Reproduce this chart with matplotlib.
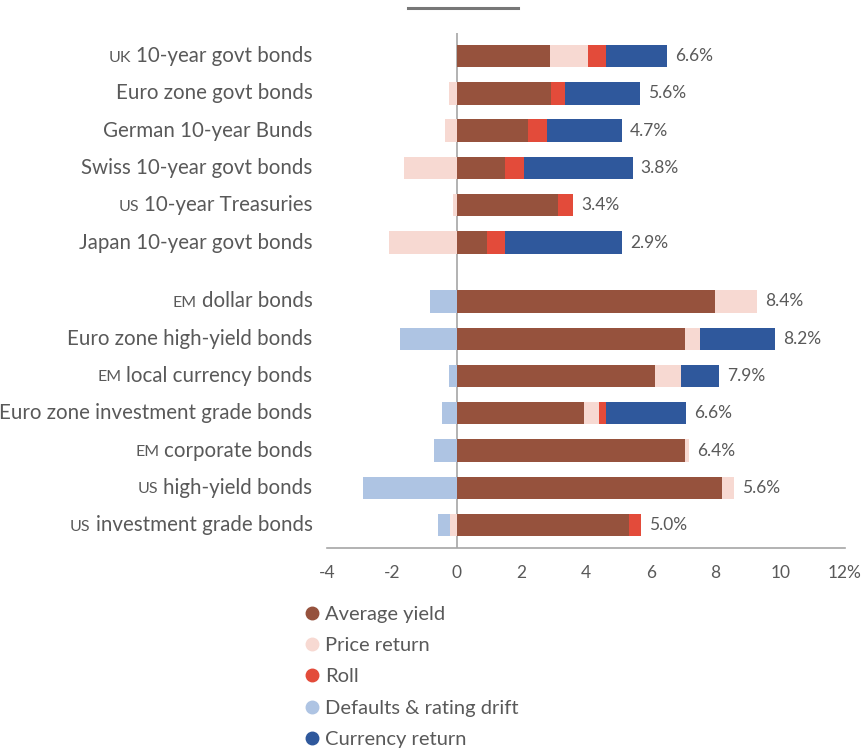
import numpy as np
import matplotlib
matplotlib.use("Agg")
import matplotlib.pyplot as plt
import matplotlib.transforms as mtransforms
from matplotlib.lines import Line2D

plt.rcParams['font.family'] = ['Lato', 'DejaVu Sans']

# 数据
categories = ["UK 10-year govt bonds", "Euro zone govt bonds", "German 10-year Bunds",
              "Swiss 10-year govt bonds", "US 10-year Treasuries", "Japan 10-year govt bonds",
              "EM dollar bonds", "Euro zone high-yield bonds", "EM local currency bonds",
              "Euro zone investment grade bonds", "EM corporate bonds", "US high-yield bonds",
              "US investment grade bonds"]
avg_yield = [2.89, 2.92, 2.21, 1.50, 3.13, 0.95, 7.98, 7.05, 6.13, 3.94, 7.05, 8.20, 5.33]
price_ret = [1.17, -0.22, -0.35, -1.61, -0.10, -2.08, 1.30, 0.46, 0.80, 0.46, 0.12, 0.37, -0.19]
roll = [0.57, 0.43, 0.58, 0.58, 0.46, 0.55, 0, 0, 0, 0.23, 0, 0, 0.37]
defaults = [0, 0, 0, 0, 0, 0, -0.82, -1.74, -0.22, -0.44, -0.69, -2.88, -0.37]
currency = [1.86, 2.32, 2.32, 3.36, 0, 3.61, 0, 2.32, 1.17, 2.45, 0, 0, 0]
total_labels = ["6.6%", "5.6%", "4.7%", "3.8%", "3.4%", "2.9%",
                "8.4%", "8.2%", "7.9%", "6.6%", "6.4%", "5.6%", "5.0%"]
series_names = ["Average yield", "Price return", "Roll", "Defaults & rating drift", "Currency return"]
xticks = [-4, -2, 0, 2, 4, 6, 8, 10, 12]
xtick_labels = ["-4", "-2", "0", "2", "4", "6", "8", "10", "12%"]

c_yield = '#96523d'
c_price = '#f7d9d2'
c_roll = '#e34b3a'
c_def = '#aec4e3'
c_cur = '#2f589c'
grey_txt = '#595959'

# 两组之间留空
ypos = np.array([0, 1, 2, 3, 4, 5, 6.58, 7.58, 8.58, 9.58, 10.58, 11.58, 12.58])

fig = plt.figure(figsize=(8.63, 7.49), dpi=100)
ax = fig.add_axes([327 / 863, 0.268, 518 / 863, 0.688])

y_arr = np.array(avg_yield)
p_arr = np.array(price_ret)
r_arr = np.array(roll)
d_arr = np.array(defaults)
c_arr = np.array(currency)
h = 0.6

p_pos = np.clip(p_arr, 0, None)
p_neg = np.clip(p_arr, None, 0)

ax.barh(ypos, y_arr, height=h, color=c_yield)
ax.barh(ypos, p_pos, left=y_arr, height=h, color=c_price)
ax.barh(ypos, p_neg, height=h, color=c_price)
ax.barh(ypos, r_arr, left=y_arr + p_pos, height=h, color=c_roll)
ax.barh(ypos, c_arr, left=y_arr + p_pos + r_arr, height=h, color=c_cur)
ax.barh(ypos, d_arr, left=p_neg, height=h, color=c_def)

pos_end = y_arr + p_pos + r_arr + c_arr
for yy, xe, lab in zip(ypos, pos_end, total_labels):
    ax.text(xe + 0.25, yy, lab, va='center', ha='left', fontsize=12.5, color=grey_txt)

ax.axvline(0, color='#a6a6a6', lw=1.2, zorder=0)
ax.set_xlim(-4, 12)
ax.set_ylim(13.2, -0.62)
ax.set_xticks(xticks)
ax.set_xticklabels(xtick_labels, fontsize=12.5, color=grey_txt)
ax.tick_params(axis='x', length=0, pad=12)
ax.set_yticks([])
for s in ['top', 'right', 'left']:
    ax.spines[s].set_visible(False)
ax.spines['bottom'].set_color('#a6a6a6')
ax.spines['bottom'].set_linewidth(1.2)

# 类别标签（UK/US/EM 用小号大写）
renderer = fig.canvas.get_renderer()
ytrans = ax.get_yaxis_transform()
for yy, name in zip(ypos, categories):
    prefix = ""
    main = name
    if name[:3] in ("UK ", "US ", "EM "):
        prefix = name[:2]
        main = name[3:]
    t = ax.text(-0.028, yy, main, transform=ytrans, ha='right', va='center',
                fontsize=14.8, color=grey_txt, clip_on=False)
    if prefix:
        bb = t.get_window_extent(renderer)
        x_ax = ax.transAxes.inverted().transform((bb.x0 - 5, 0))[0]
        ax.text(x_ax, yy + 0.04, prefix, transform=ytrans, ha='right', va='center',
                fontsize=11.5, color=grey_txt, clip_on=False)

# 顶部的短横线
fig.add_artist(Line2D([408 / 863, 518 / 863], [1 - 8 / 749, 1 - 8 / 749],
                      color='#777777', lw=2.2))

handles = [Line2D([], [], marker='o', ls='', markersize=9, color=c)
           for c in [c_yield, c_price, c_roll, c_def, c_cur]]
fig.legend(handles, series_names, loc='upper left', bbox_to_anchor=(0.341, 0.2024),
           frameon=False, fontsize=14.5, labelcolor=grey_txt, handletextpad=0.15,
           labelspacing=0.71, borderaxespad=0, handlelength=1.0)

fig.savefig("out.png", dpi=100)
